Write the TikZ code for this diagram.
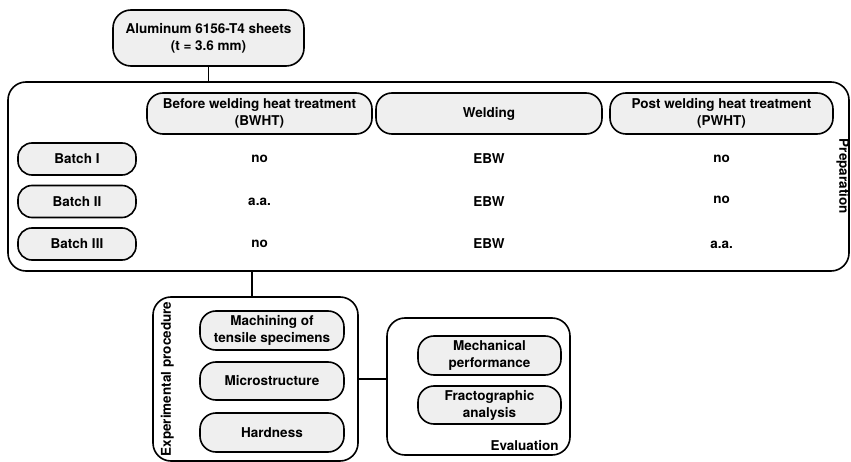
\documentclass[tikz,border=0pt]{standalone}
\usepackage{fontspec}
\setmainfont{TeX Gyre Heros}
\usetikzlibrary{positioning}
\definecolor{boxfill}{HTML}{EFEFEF}
\begin{document}
\begin{tikzpicture}[x=1pt,y=-1pt,
	pill/.style={draw, fill=boxfill, line width=1.6pt, rounded corners=16pt, align=center, inner sep=0pt,
		font=\fontsize{13.5}{17}\selectfont\bfseries},
	frame/.style={draw, line width=1.6pt, rounded corners=18pt, inner sep=0pt},
	cellval/.style={inner sep=0pt, font=\fontsize{13.5}{17}\selectfont\bfseries},
	link/.style={line width=1.6pt}]
	\useasboundingbox (0,0) rectangle (851,462);
	%Raw material
	\node [pill, minimum width=191pt, minimum height=56pt, rounded corners=18pt] (alu) at (208.5,38) {Aluminum 6156-T4 sheets\\(t = 3.6 mm)};
	%Outer frames
	\node [frame, minimum width=841pt, minimum height=189pt] (prep) at (428.5,176.5) {};
	\node [frame, minimum width=205pt, minimum height=164pt] (expr) at (255.5,379) {};
	\node [frame, minimum width=183pt, minimum height=137pt] (eval) at (478.5,386.5) {};
	\node [cellval, rotate=-90] (preplbl) at ([xshift=-7pt]prep.east) {Preparation};
	\node [cellval, rotate=90] (exprlbl) at ([xshift=15pt]expr.west) {Experimental procedure};
	\node [cellval, anchor=south east, xshift=-12pt, yshift=5pt] (evallbl) at (eval.south east) {Evaluation};
	%Column heads
	\node [pill, minimum width=225pt, minimum height=41pt] (bwht) at (259.5,113.5) {Before welding heat treatment\\(BWHT)};
	\node [pill, minimum width=226pt, minimum height=41pt] (weld) at (489,113.5) {Welding};
	\node [pill, minimum width=223pt, minimum height=41pt] (pwht) at (721.5,113.5) {Post welding heat treatment\\(PWHT)};
	%Row heads
	\node [pill, minimum width=118pt, minimum height=32pt, rounded corners=14pt] (batch1) at (77,159) {Batch I};
	\node [pill, minimum width=118pt, minimum height=32pt, rounded corners=14pt] (batch2) at (77,201.5) {Batch II};
	\node [pill, minimum width=118pt, minimum height=32pt, rounded corners=14pt] (batch3) at (77,244) {Batch III};
	%Values in the cells
	%row 1
	\node [cellval] (c11) at (bwht |- batch1) {no};
	\node [cellval] (c12) at (weld |- batch1) {EBW};
	\node [cellval] (c13) at (pwht |- batch1) {no};
	%row 2
	\node [cellval] (c21) at (bwht |- batch2) {a.a.};
	\node [cellval] (c22) at (weld |- batch2) {EBW};
	\node [cellval] (c23) at ([yshift=1.5pt]pwht |- batch2) {no};
	%row 3
	\node [cellval] (c31) at (bwht |- batch3) {no};
	\node [cellval] (c32) at (weld |- batch3) {EBW};
	\node [cellval] (c33) at ([yshift=-1pt]pwht |- batch3) {a.a.};
	%Experimental procedure
	\node [pill, minimum width=144pt, minimum height=39pt] (mach) at (272,330.5) {Machining of\\tensile specimens};
	\node [pill, minimum width=144pt, minimum height=38pt] (micro) at (272,381) {Microstructure};
	\node [pill, minimum width=144pt, minimum height=39pt] (hard) at (272,432.5) {Hardness};
	%Evaluation
	\node [pill, minimum width=143pt, minimum height=39pt] (mech) at (489.5,355.5) {Mechanical\\performance};
	\node [pill, minimum width=143pt, minimum height=38pt] (fract) at (489.5,405) {Fractographic\\analysis};
	%Connectors
	\draw [link] (alu.south) -- (alu.south |- prep.north);
	\draw [link] ([xshift=-3.5pt]expr.north) -- ([xshift=-3.5pt]expr.north |- prep.south);
	\draw [link] (expr.east) -- (expr.east -| eval.west);
\end{tikzpicture}
\end{document}
